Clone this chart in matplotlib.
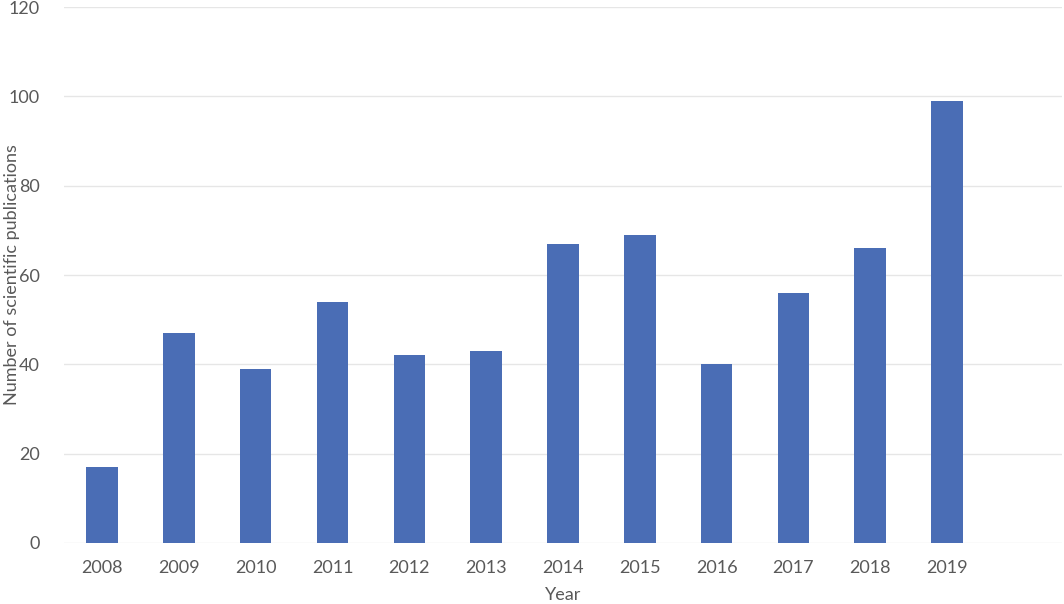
import matplotlib
matplotlib.use("Agg")
import matplotlib.pyplot as plt
import numpy as np

years = ["2008", "2009", "2010", "2011", "2012", "2013",
         "2014", "2015", "2016", "2017", "2018", "2019"]
publications = [17, 47, 39, 54, 42, 43, 67, 69, 40, 56, 66, 99]
y_ticks = [0, 20, 40, 60, 80, 100, 120]

plt.rcParams['font.family'] = ['Lato', 'DejaVu Sans']

fig = plt.figure(figsize=(10.64, 6.04), dpi=100)
ax = fig.add_axes([0.0598, 0.101, 0.9386, 0.8874])

x = np.arange(len(years))
ax.bar(x, publications, width=0.41, color='#4A6DB5', zorder=3)

ax.set_xlim(-0.5, len(years) + 0.5)
ax.set_ylim(0, 120)
ax.set_yticks(y_ticks)
ax.set_xticks(x)
ax.set_xticklabels(years)
ax.grid(axis='y', color='#e6e6e6', linewidth=1, zorder=0)
for s in ax.spines.values():
    s.set_visible(False)
ax.tick_params(length=0, labelsize=13, labelcolor='#595959')
ax.tick_params(axis='y', pad=17)
ax.tick_params(axis='x', pad=12)

ax.set_xlabel('Year', fontsize=13, color='#595959')
ax.set_ylabel('Number of scientific publications', fontsize=13,
              color='#595959')
# place axis titles where the reference has them (pixel -> axes coords)
ax.xaxis.set_label_coords(0.5, -0.082)
ax.yaxis.set_label_coords(-0.044, 0.5)

fig.savefig('out.png', dpi=100)
